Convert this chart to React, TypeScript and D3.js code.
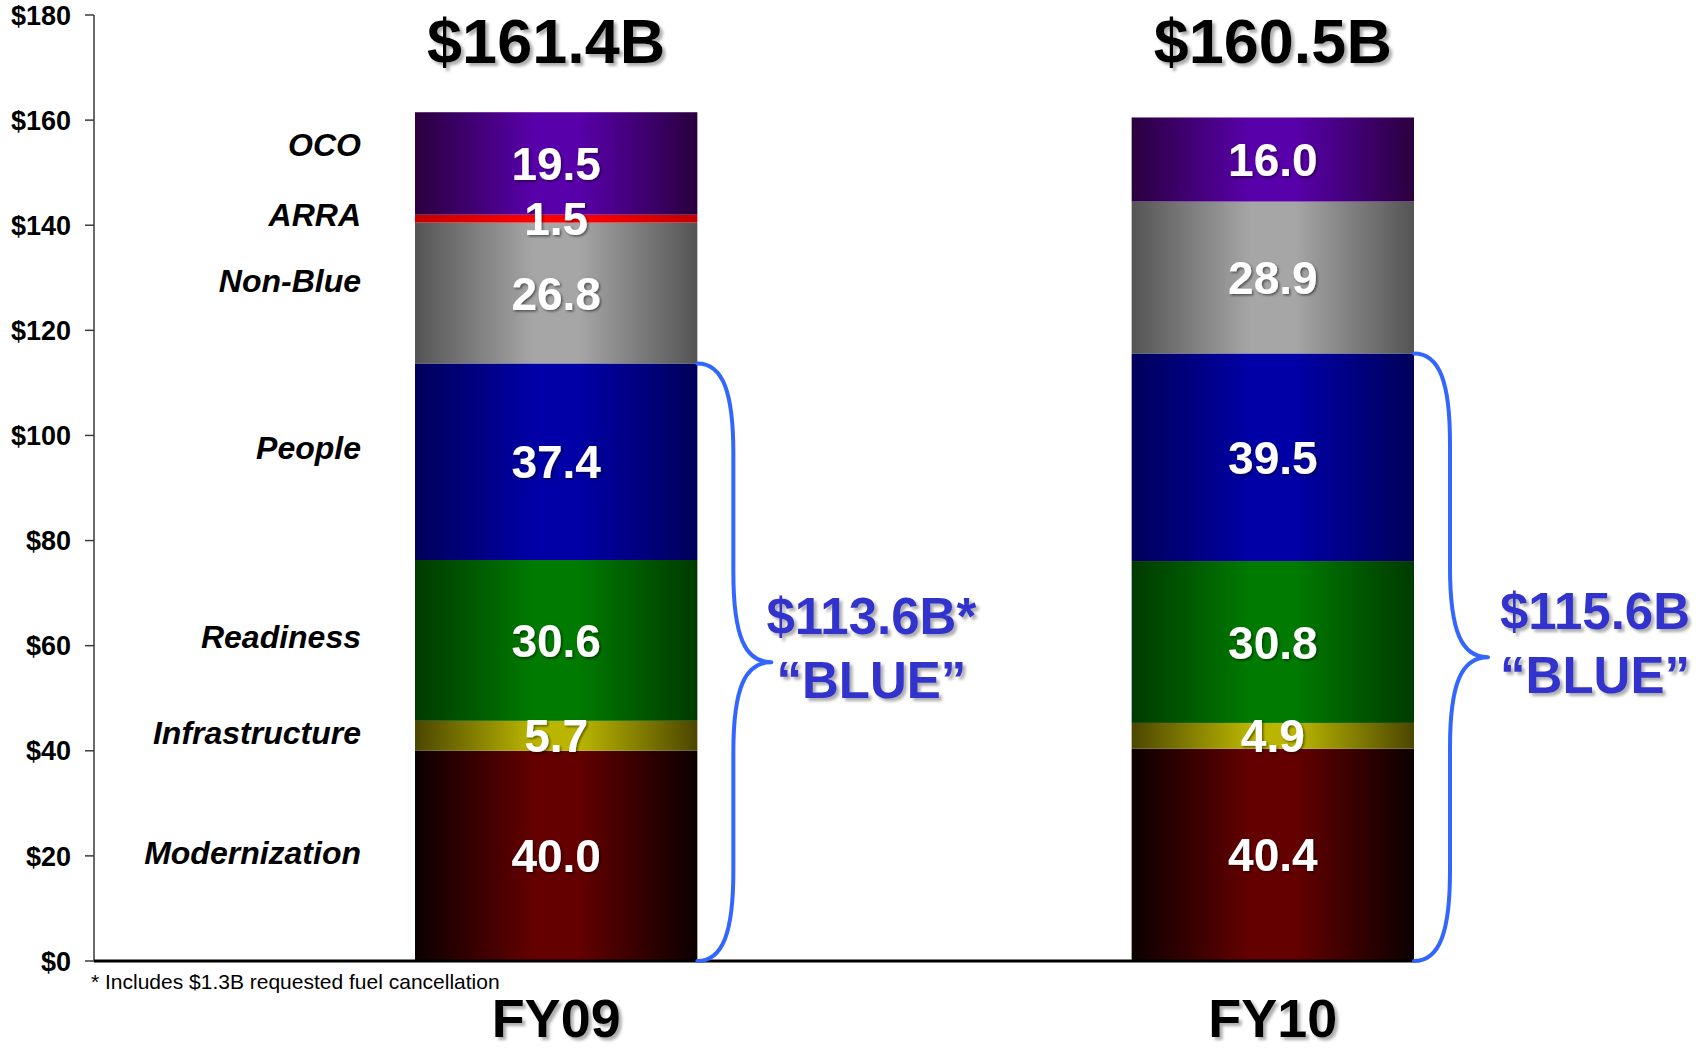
import React, { useEffect, useRef } from "react";
import * as d3 from "d3";

const years = ["FY09", "FY10"];
const categories = ["Modernization", "Infrastructure", "Readiness", "People", "Non-Blue", "ARRA", "OCO"];
const fy09 = [40.0, 5.7, 30.6, 37.4, 26.8, 1.5, 19.5];
const fy10 = [40.4, 4.9, 30.8, 39.5, 28.9, 0, 16.0];
// where each category name sits on the $ axis
const labelAt = [20.7, 43.4, 61.8, 97.8, 129.4, 142.1, 155.4];
const totals = ["$161.4B", "$160.5B"];
const blueTotals = ["$113.6B*", "$115.6B"];
const blueKeys = ["Modernization", "Infrastructure", "Readiness", "People"];
const yTicks = [0, 20, 40, 60, 80, 100, 120, 140, 160, 180];
const footnote = "* Includes $1.3B requested fuel cancellation";

// edge / centre colour of the horizontal gradient on each segment
const shades: Record<string, [string, string]> = {
  Modernization: ["#0c0000", "#640000"],
  Infrastructure: ["#4c4600", "#bab600"],
  Readiness: ["#003a00", "#007a00"],
  People: ["#00005a", "#0000a6"],
  "Non-Blue": ["#545454", "#a6a6a6"],
  ARRA: ["#c40000", "#ff0000"],
  OCO: ["#2a003e", "#5800aa"],
};

const FONT = "'Liberation Sans', Arial, sans-serif";

export default function App() {
  const ref = useRef<SVGSVGElement>(null);
  const width = 1702;
  const height = 1050;

  useEffect(() => {
    d3.select(ref.current).selectAll("*").remove();
    const svg = d3.select(ref.current);

    const rows = years.map((yr, i) => {
      const vals = i === 0 ? fy09 : fy10;
      const row: any = { year: yr };
      categories.forEach((c, j) => (row[c] = vals[j]));
      return row;
    });

    const stack = d3.stack<any>().keys(categories)(rows);

    const y = d3.scaleLinear().domain([0, 180]).range([961, 15]);
    const x = d3.scaleBand().domain(years).range([415, 1414]).paddingInner(0.606).paddingOuter(0);
    const bw = x.bandwidth();

    const defs = svg.append("defs");
    categories.forEach((c, i) => {
      const [edge, mid] = shades[c];
      const g = defs
        .append("linearGradient")
        .attr("id", `grad${i}`)
        .attr("x1", 0)
        .attr("x2", 1)
        .attr("y1", 0)
        .attr("y2", 0);
      g.append("stop").attr("offset", 0).attr("stop-color", edge);
      g.append("stop").attr("offset", 0.42).attr("stop-color", mid);
      g.append("stop").attr("offset", 0.58).attr("stop-color", mid);
      g.append("stop").attr("offset", 1).attr("stop-color", edge);
    });

    const shadow = defs.append("filter").attr("id", "shadow").attr("x", -0.1).attr("y", -0.2).attr("width", 1.3).attr("height", 1.5);
    shadow
      .append("feDropShadow")
      .attr("dx", 3)
      .attr("dy", 3)
      .attr("stdDeviation", 1.5)
      .attr("flood-color", "#777")
      .attr("flood-opacity", 0.6);

    const darkShadow = defs.append("filter").attr("id", "darkShadow").attr("x", -0.1).attr("y", -0.2).attr("width", 1.3).attr("height", 1.5);
    darkShadow
      .append("feDropShadow")
      .attr("dx", 1.5)
      .attr("dy", 1.5)
      .attr("stdDeviation", 1)
      .attr("flood-color", "#000")
      .attr("flood-opacity", 0.5);

    // bars
    stack.forEach((layer, i) => {
      svg
        .append("g")
        .selectAll("rect")
        .data(layer)
        .enter()
        .append("rect")
        .attr("x", (d) => x(d.data.year) as number)
        .attr("y", (d) => y(d[1]))
        .attr("width", bw)
        .attr("height", (d) => Math.max(0, y(d[0]) - y(d[1])))
        .attr("fill", `url(#grad${i})`);
    });

    // value labels inside segments
    stack.forEach((layer) => {
      svg
        .append("g")
        .selectAll("text")
        .data(layer.filter((d) => d[1] - d[0] > 0))
        .enter()
        .append("text")
        .attr("x", (d) => (x(d.data.year) as number) + bw / 2)
        .attr("y", (d) => y((d[0] + d[1]) / 2))
        .attr("dy", "0.36em")
        .attr("text-anchor", "middle")
        .attr("fill", "#fff")
        .attr("filter", "url(#darkShadow)")
        .style("font-family", FONT)
        .style("font-weight", "bold")
        .style("font-size", "46px")
        .text((d) => (d[1] - d[0]).toFixed(1));
    });

    // y axis
    const axis = svg.append("g");
    axis
      .append("line")
      .attr("x1", 94)
      .attr("x2", 94)
      .attr("y1", y(180))
      .attr("y2", y(0))
      .attr("stroke", "#3a3a3a")
      .attr("stroke-width", 1.5);
    axis
      .selectAll(".tick")
      .data(yTicks)
      .enter()
      .append("line")
      .attr("x1", 85)
      .attr("x2", 94)
      .attr("y1", (d) => y(d))
      .attr("y2", (d) => y(d))
      .attr("stroke", "#3a3a3a")
      .attr("stroke-width", 1.5);
    axis
      .selectAll("text")
      .data(yTicks)
      .enter()
      .append("text")
      .attr("x", 71)
      .attr("y", (d) => y(d))
      .attr("dy", "0.36em")
      .attr("text-anchor", "end")
      .style("font-family", FONT)
      .style("font-weight", "bold")
      .style("font-size", "27px")
      .text((d) => `$${d}`);

    // baseline
    svg
      .append("line")
      .attr("x1", 94)
      .attr("x2", (x("FY10") as number) + bw)
      .attr("y1", y(0))
      .attr("y2", y(0))
      .attr("stroke", "#000")
      .attr("stroke-width", 3);

    // category names
    svg
      .append("g")
      .selectAll("text")
      .data(categories)
      .enter()
      .append("text")
      .attr("x", 361)
      .attr("y", (_, i) => y(labelAt[i]))
      .attr("dy", "0.36em")
      .attr("text-anchor", "end")
      .style("font-family", FONT)
      .style("font-weight", "bold")
      .style("font-style", "italic")
      .style("font-size", "32px")
      .text((d) => d);

    // totals above bars
    svg
      .append("g")
      .selectAll("text")
      .data(years)
      .enter()
      .append("text")
      .attr("x", (d, i) => (x(d) as number) + bw / 2 - (i === 0 ? 10 : 0))
      .attr("y", 63)
      .attr("text-anchor", "middle")
      .attr("filter", "url(#shadow)")
      .style("font-family", FONT)
      .style("font-weight", "bold")
      .style("font-size", "63px")
      .text((_, i) => totals[i]);

    // year labels
    svg
      .append("g")
      .selectAll("text")
      .data(years)
      .enter()
      .append("text")
      .attr("x", (d) => (x(d) as number) + bw / 2)
      .attr("y", 1037)
      .attr("text-anchor", "middle")
      .attr("filter", "url(#shadow)")
      .style("font-family", FONT)
      .style("font-weight", "bold")
      .style("font-size", "54px")
      .text((d) => d);

    // footnote
    svg
      .append("text")
      .attr("x", 91)
      .attr("y", 989)
      .style("font-family", FONT)
      .style("font-size", "21px")
      .text(footnote);

    // braces around the "blue" part of each bar
    const blueIdx = categories.indexOf(blueKeys[blueKeys.length - 1]);
    years.forEach((yr, i) => {
      const xr = (x(yr) as number) + bw;
      const top = y(stack[blueIdx][i][1]);
      const bot = y(0);
      const mid = (top + bot) / 2;
      const v = xr + 36;
      const tip = xr + 74;
      const p = d3.path();
      p.moveTo(xr, top);
      p.bezierCurveTo(xr + 26, top, v, top + 30, v, top + 90);
      p.lineTo(v, mid - 90);
      p.bezierCurveTo(v, mid - 25, v + 12, mid, tip, mid);
      p.moveTo(tip, mid);
      p.bezierCurveTo(v + 12, mid, v, mid + 25, v, mid + 90);
      p.lineTo(v, bot - 90);
      p.bezierCurveTo(v, bot - 30, xr + 26, bot, xr, bot);
      svg
        .append("path")
        .attr("d", p.toString())
        .attr("fill", "none")
        .attr("stroke", "#3366ff")
        .attr("stroke-width", 4)
        .attr("stroke-linecap", "round")
        .attr("stroke-linejoin", "round");

      const t = svg
        .append("text")
        .attr("text-anchor", "middle")
        .attr("fill", "#3333cc")
        .attr("filter", "url(#shadow)")
        .style("font-family", FONT)
        .style("font-weight", "bold")
        .style("font-size", "51px");
      const cx = tip + (i === 0 ? 100 : 107);
      t.append("tspan").attr("x", cx).attr("y", mid - 28).text(blueTotals[i]);
      t.append("tspan").attr("x", cx).attr("y", mid + 36).text("\u201cBLUE\u201d");
    });
  }, []);

  return (
    <svg
      ref={ref}
      width={width}
      height={height}
      style={{ position: "absolute", left: 0, top: 0, display: "block", background: "#fff" }}
    ></svg>
  );
}
